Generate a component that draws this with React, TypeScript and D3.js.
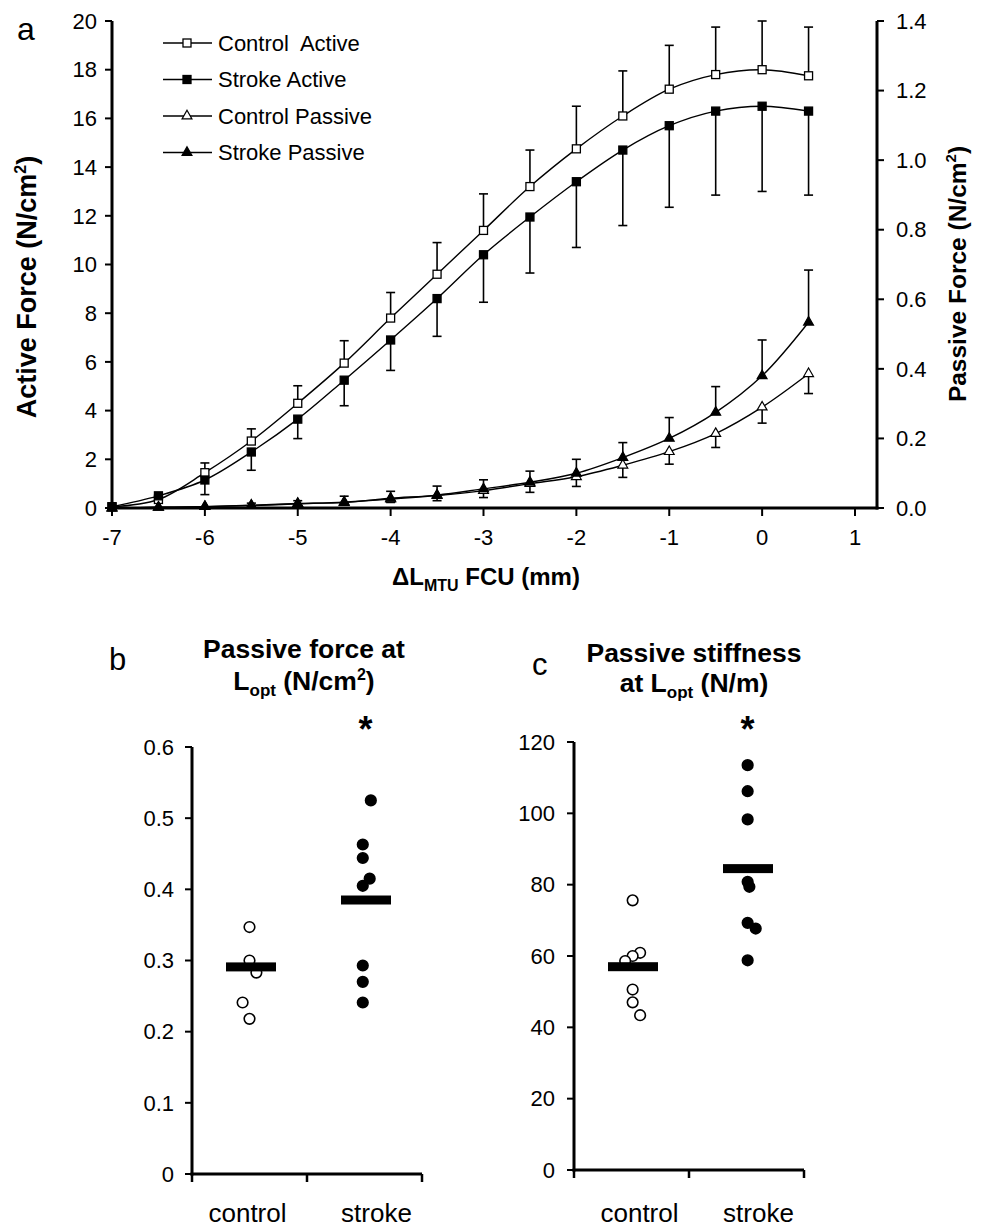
import React from 'react';
import * as d3 from 'd3';

// ---------- Panel a data ----------
const lengthsMM = [-7, -6.5, -6, -5.5, -5, -4.5, -4, -3.5, -3, -2.5, -2, -1.5, -1, -0.5, 0, 0.5];
const controlActive = [0.05, 0.35, 1.45, 2.75, 4.3, 5.95, 7.8, 9.6, 11.4, 13.2, 14.75, 16.1, 17.2, 17.8, 18.0, 17.75];
const controlActiveErr = [0, 0.2, 0.4, 0.5, 0.72, 0.92, 1.05, 1.3, 1.5, 1.5, 1.75, 1.85, 1.8, 1.95, 2.0, 2.0];
const strokeActive = [0.05, 0.5, 1.15, 2.3, 3.65, 5.25, 6.9, 8.6, 10.4, 11.95, 13.4, 14.7, 15.7, 16.3, 16.5, 16.3];
const strokeActiveErr = [0, 0.2, 0.6, 0.75, 0.8, 1.05, 1.25, 1.55, 1.95, 2.3, 2.7, 3.1, 3.35, 3.45, 3.5, 3.45];
const controlPassive = [0, 0.002, 0.004, 0.007, 0.012, 0.017, 0.026, 0.036, 0.05, 0.07, 0.09, 0.123, 0.162, 0.214, 0.29, 0.386];
const controlPassiveErr = [0, 0, 0.002, 0.004, 0.006, 0.008, 0.01, 0.015, 0.02, 0.025, 0.028, 0.035, 0.036, 0.04, 0.046, 0.057];
const strokePassive = [0, 0.002, 0.004, 0.008, 0.013, 0.016, 0.028, 0.037, 0.055, 0.074, 0.1, 0.145, 0.2, 0.275, 0.38, 0.534];
const strokePassiveErr = [0, 0.002, 0.004, 0.006, 0.008, 0.018, 0.02, 0.026, 0.026, 0.032, 0.04, 0.043, 0.06, 0.074, 0.103, 0.15];

const activeTicks = [0, 2, 4, 6, 8, 10, 12, 14, 16, 18, 20];
const passiveTicks = [0, 0.2, 0.4, 0.6, 0.8, 1.0, 1.2, 1.4];
const lengthTicks = [-7, -6, -5, -4, -3, -2, -1, 0, 1];
const legendLabels = ['Control  Active', 'Stroke Active', 'Control Passive', 'Stroke Passive'];

// ---------- Panel b data ----------
const groups = ['control', 'stroke'];
const bControl = [0.347, 0.30, 0.283, 0.241, 0.218];
const bControlJitter = [0, 0, 0.06, -0.06, 0];
const bStroke = [0.525, 0.463, 0.444, 0.415, 0.405, 0.293, 0.27, 0.241];
const bStrokeJitter = [0.055, -0.015, -0.015, 0.045, -0.015, -0.015, -0.015, -0.015];
const bMeans = [0.291, 0.385];
const bTicks = [0, 0.1, 0.2, 0.3, 0.4, 0.5, 0.6];

// ---------- Panel c data ----------
const cControl = [75.6, 60.9, 60.0, 58.6, 50.6, 47.0, 43.4];
const cControlJitter = [0.01, 0.075, 0.01, -0.055, 0.01, 0.01, 0.075];
const cStroke = [113.5, 106.2, 98.3, 80.8, 79.4, 69.3, 67.7, 58.8];
const cStrokeJitter = [0.01, 0.01, 0.01, 0.01, 0.025, 0.01, 0.08, 0.01];
const cMeans = [57, 84.5];
const cTicks = [0, 20, 40, 60, 80, 100, 120];

const FONT = "'Liberation Sans', Arial, Helvetica, sans-serif";

function Marker({ kind, filled, cx, cy }: { kind: string; filled: boolean; cx: number; cy: number }) {
  const fill = filled ? '#000' : '#fff';
  if (kind === 'square') {
    return <rect x={cx - 4} y={cy - 4} width={8} height={8} fill={fill} stroke="#000" strokeWidth={1.3} />;
  }
  const p = d3.symbol(d3.symbolTriangle, 42)() as string;
  return <path d={p} transform={`translate(${cx},${cy})`} fill={fill} stroke="#000" strokeWidth={1.2} />;
}

function PanelA() {
  const x = d3.scaleLinear().domain([-7, 1]).range([112, 855]);
  const yA = d3.scaleLinear().domain([0, 20]).range([508, 21]);
  const yP = d3.scaleLinear().domain([0, 1.4]).range([508, 21]);
  const line = d3.line<[number, number]>().curve(d3.curveCatmullRom.alpha(0.5));

  const series = [
    { vals: controlActive, err: controlActiveErr, dir: 1, y: yA, kind: 'square', filled: false },
    { vals: strokeActive, err: strokeActiveErr, dir: -1, y: yA, kind: 'square', filled: true },
    { vals: controlPassive, err: controlPassiveErr, dir: -1, y: yP, kind: 'triangle', filled: false },
    { vals: strokePassive, err: strokePassiveErr, dir: 1, y: yP, kind: 'triangle', filled: true },
  ];

  const xEnd = 877;
  return (
    <g fontFamily={FONT}>
      {series.map((s, i) => (
        <path key={'l' + i} d={line(lengthsMM.map((v, j) => [x(v), s.y(s.vals[j])]))!} fill="none" stroke="#000" strokeWidth={1.4} />
      ))}
      {series.map((s, i) => (
        <g key={'e' + i}>
          {lengthsMM.map((v, j) => {
            if (s.err[j] <= 0) return null;
            const y0 = s.y(s.vals[j]);
            const y1 = s.y(s.vals[j] + s.dir * s.err[j]);
            if (Math.abs(y1 - y0) < 2) return null;
            return (
              <g key={j} stroke="#000" strokeWidth={1.6}>
                <line x1={x(v)} x2={x(v)} y1={y0} y2={y1} />
                <line x1={x(v) - 4.5} x2={x(v) + 4.5} y1={y1} y2={y1} />
              </g>
            );
          })}
        </g>
      ))}
      {series.map((s, i) => (
        <g key={'m' + i}>
          {lengthsMM.map((v, j) => (
            <Marker key={j} kind={s.kind} filled={s.filled} cx={x(v)} cy={s.y(s.vals[j])} />
          ))}
        </g>
      ))}

      <line x1={112} x2={112} y1={yA(20)} y2={yA(0) + 1.5} stroke="#000" strokeWidth={3} />
      <line x1={xEnd} x2={xEnd} y1={yP(1.4)} y2={yP(0) + 1.5} stroke="#000" strokeWidth={3} />
      <line x1={110.5} x2={xEnd + 1.5} y1={yA(0)} y2={yA(0)} stroke="#000" strokeWidth={3} />
      {activeTicks.map((t) => (
        <g key={'ya' + t}>
          <line x1={105} x2={112} y1={yA(t)} y2={yA(t)} stroke="#000" strokeWidth={2} />
          <text x={97} y={yA(t)} dy="0.35em" textAnchor="end" fontSize={22}>{t}</text>
        </g>
      ))}
      {passiveTicks.map((t) => (
        <g key={'yp' + t}>
          <line x1={xEnd} x2={xEnd + 7} y1={yP(t)} y2={yP(t)} stroke="#000" strokeWidth={2} />
          <text x={896} y={yP(t)} dy="0.35em" textAnchor="start" fontSize={22}>{d3.format('.1f')(t)}</text>
        </g>
      ))}
      {lengthTicks.map((t) => (
        <g key={'x' + t}>
          <line x1={x(t)} x2={x(t)} y1={yA(0)} y2={yA(0) + 8} stroke="#000" strokeWidth={2} />
          <text x={x(t)} y={545} textAnchor="middle" fontSize={22}>{t}</text>
        </g>
      ))}

      <text transform="translate(36,287) rotate(-90)" textAnchor="middle" fontSize={27} fontWeight="bold">
        Active Force (N/cm<tspan fontSize={16} dy={-10}>2</tspan><tspan dy={10}>)</tspan>
      </text>
      <text transform="translate(966,274) rotate(-90)" textAnchor="middle" fontSize={24.5} fontWeight="bold">
        Passive Force (N/cm<tspan fontSize={15} dy={-10}>2</tspan><tspan dy={10}>)</tspan>
      </text>
      <text x={486} y={585} textAnchor="middle" fontSize={24} fontWeight="bold">
        ΔL<tspan fontSize={16} dy={6}>MTU</tspan><tspan dy={-6}> FCU (mm)</tspan>
      </text>
      <text x={17} y={40} fontSize={32}>a</text>

      {legendLabels.map((lab, i) => {
        const ly = 43 + i * 36.5;
        const s = series[i];
        return (
          <g key={'lg' + i}>
            <line x1={163} x2={212} y1={ly} y2={ly} stroke="#000" strokeWidth={1.4} />
            <Marker kind={s.kind} filled={s.filled} cx={187} cy={ly} />
            <text x={218} y={ly} dy="0.36em" fontSize={22} style={{ whiteSpace: 'pre' }}>{lab}</text>
          </g>
        );
      })}
    </g>
  );
}

type DotPanelProps = {
  left: number; right: number; y0: number; yTop: number; max: number; ticks: number[];
  fmt: (v: number) => string; control: number[]; controlJ: number[]; stroke: number[]; strokeJ: number[];
  means: number[]; letter: string; letterX: number; letterY: number;
  title1: React.ReactNode; title2: React.ReactNode; titleX: number; t1y: number; t2y: number;
  labelShift: number[]; labelY: number; tickLabelX: number;
};

function DotPanel(p: DotPanelProps) {
  const y = d3.scaleLinear().domain([0, p.max]).range([p.y0, p.yTop]);
  const xb = d3.scaleBand<string>().domain(groups).range([p.left, p.right]);
  const bw = xb.bandwidth();
  const cx = (g: string) => (xb(g) as number) + bw / 2;
  const pts = [
    { g: 'control', vals: p.control, j: p.controlJ, filled: false },
    { g: 'stroke', vals: p.stroke, j: p.strokeJ, filled: true },
  ];
  return (
    <g fontFamily={FONT}>
      <text x={p.letterX} y={p.letterY} fontSize={31}>{p.letter}</text>
      <text x={p.titleX} y={p.t1y} textAnchor="middle" fontSize={26.5} fontWeight="bold">{p.title1}</text>
      <text x={p.titleX} y={p.t2y} textAnchor="middle" fontSize={26.5} fontWeight="bold">{p.title2}</text>
      <line x1={p.left} x2={p.left} y1={p.yTop} y2={p.y0 + 1.5} stroke="#000" strokeWidth={3} />
      <line x1={p.left - 1.5} x2={p.right} y1={p.y0} y2={p.y0} stroke="#000" strokeWidth={3} />
      {p.ticks.map((t) => (
        <g key={t}>
          <line x1={p.left - 7} x2={p.left} y1={y(t)} y2={y(t)} stroke="#000" strokeWidth={2} />
          <text x={p.tickLabelX} y={y(t)} dy="0.35em" textAnchor="end" fontSize={22}>{p.fmt(t)}</text>
        </g>
      ))}
      {[p.left, p.left + bw, p.right].map((tx, i) => (
        <line key={i} x1={tx} x2={tx} y1={p.y0} y2={p.y0 + 8} stroke="#000" strokeWidth={2.5} />
      ))}
      {groups.map((g, i) => (
        <text key={g} x={cx(g) + p.labelShift[i]} y={p.labelY} textAnchor="middle" fontSize={26}>{g}</text>
      ))}
      {pts.map((s) =>
        s.vals.map((v, k) => (
          <circle key={s.g + k} cx={cx(s.g) + s.j[k] * bw} cy={y(v)} r={5.3}
            fill={s.filled ? '#000' : '#fff'} stroke="#000" strokeWidth={1.6} />
        ))
      )}
      {groups.map((g, i) => (
        <rect key={'m' + g} x={cx(g) - 25 + 1.5} y={y(p.means[i]) - 4.5} width={50} height={9} fill="#000" />
      ))}
      <text x={cx('stroke') + 1} y={742} textAnchor="middle" fontSize={36} fontWeight="bold">*</text>
    </g>
  );
}

export default function App() {
  const fmtB = (v: number) => (v === 0 ? '0' : d3.format('.1f')(v));
  const fmtC = (v: number) => String(v);
  return (
    <svg width={982} height={1228} style={{ position: 'absolute', left: 0, top: 0, background: '#fff' }}>
      <rect width={982} height={1228} fill="#fff" />
      <PanelA />
      <DotPanel
        left={192} right={422} y0={1174} yTop={747} max={0.6} ticks={bTicks} fmt={fmtB}
        control={bControl} controlJ={bControlJitter} stroke={bStroke} strokeJ={bStrokeJitter} means={bMeans}
        letter="b" letterX={109} letterY={670}
        title1="Passive force at"
        title2={<>L<tspan fontSize={17} dy={6}>opt</tspan><tspan dy={-6}> (N/cm</tspan><tspan fontSize={16} dy={-10}>2</tspan><tspan dy={10}>)</tspan></>}
        titleX={304} t1y={658} t2y={690} labelShift={[-2, 12]} labelY={1222} tickLabelX={174}
      />
      <DotPanel
        left={574} right={804} y0={1170} yTop={742} max={120} ticks={cTicks} fmt={fmtC}
        control={cControl} controlJ={cControlJitter} stroke={cStroke} strokeJ={cStrokeJitter} means={cMeans}
        letter="c" letterX={532} letterY={675}
        title1="Passive stiffness"
        title2={<>at L<tspan fontSize={17} dy={6}>opt</tspan><tspan dy={-6}> (N/m)</tspan></>}
        titleX={694} t1y={662} t2y={692} labelShift={[8, 12]} labelY={1222} tickLabelX={555}
      />
    </svg>
  );
}
